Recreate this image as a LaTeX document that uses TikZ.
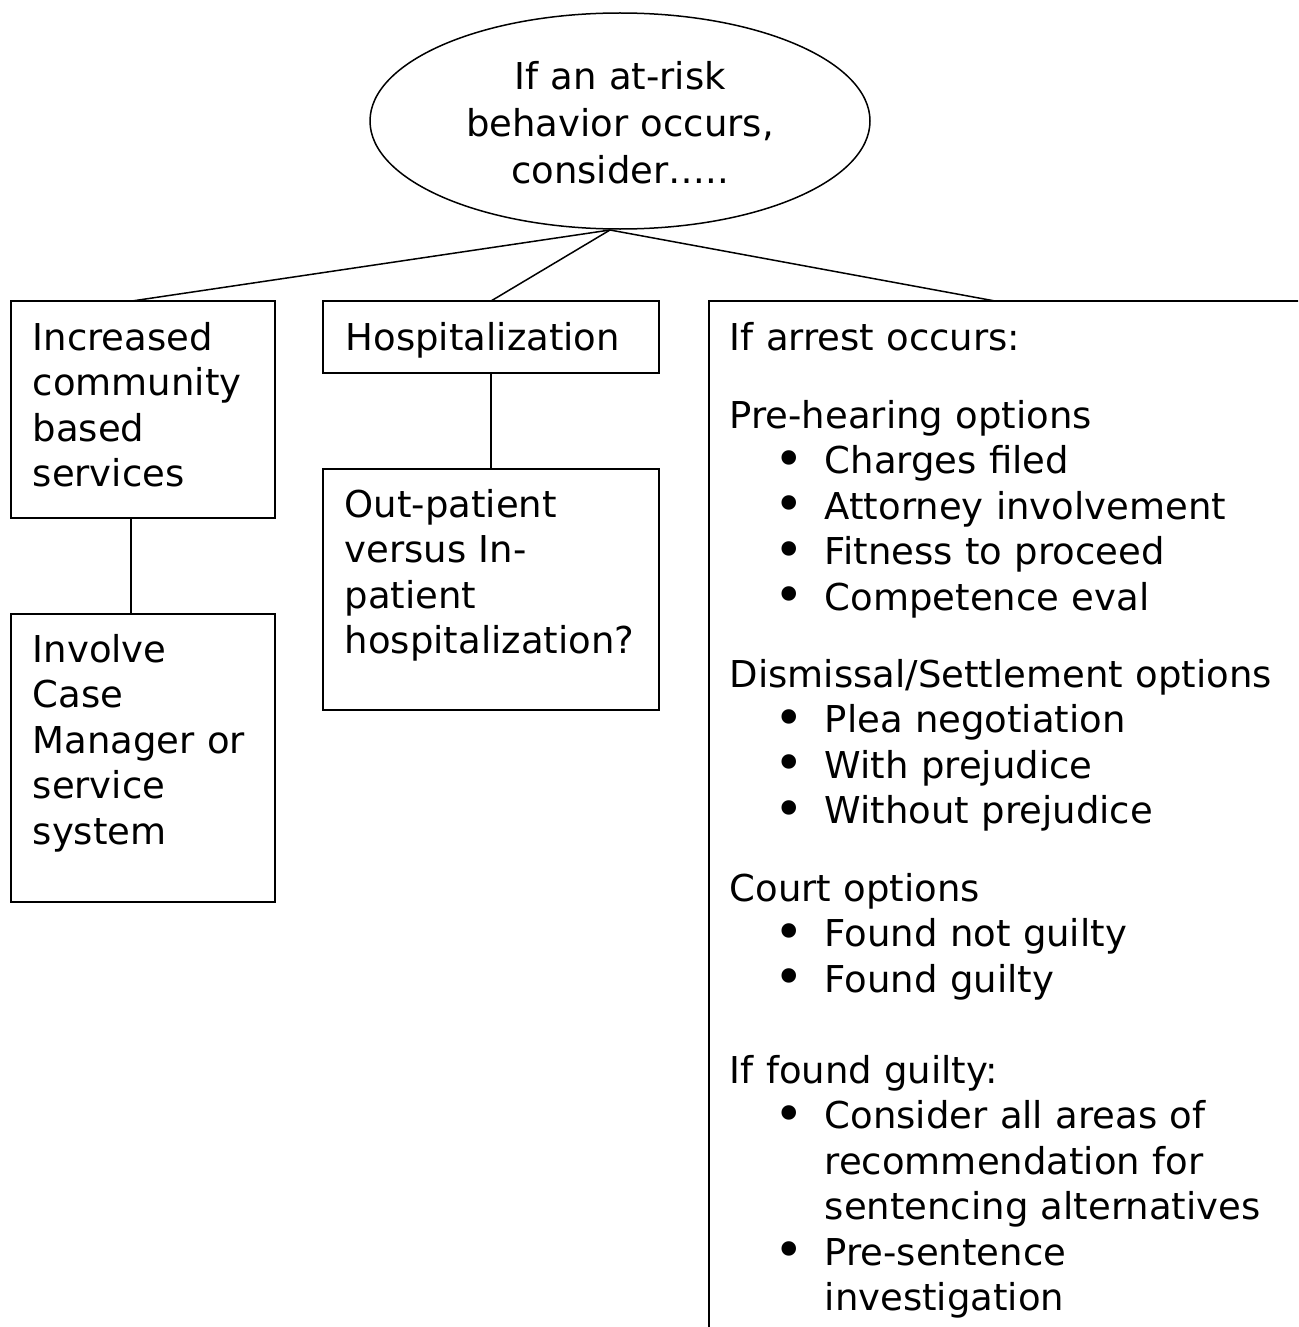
\documentclass[tikz,border=0pt]{standalone}
\usepackage{fontspec}
\setmainfont{DejaVu Sans}
\usetikzlibrary{shapes.geometric,calc}
\newcommand\bitem[1]{\hspace*{45pt}\makebox[50pt][l]{\raisebox{-2.5pt}{\scalebox{1.35}{•}}}#1}
\newcommand\bcont[1]{\hspace*{95pt}#1}
\begin{document}
\begin{tikzpicture}[x=1pt,y=-1pt,line width=1.5pt,
  box/.style={draw,rectangle,inner sep=0pt,outer sep=0pt,anchor=north west},
  txt/.style={anchor=base west,inner sep=0pt,align=left,text width=600pt,
    font=\fontsize{37}{45.5}\selectfont},
  etxt/.style={anchor=base,inner sep=0pt,align=center,text width=420pt,
    font=\fontsize{37}{46.5}\selectfont},
  link/.style={draw,line width=1.5pt}]
\useasboundingbox (0,0) rectangle (1298,1327);
\clip (0,0) rectangle (1298,1327);
\fill[white] (0,0) rectangle (1298,1327);

% top ellipse
\node[draw,ellipse,inner sep=0pt,minimum width=500pt,minimum height=216pt] (top) at (620,121) {};
\node[etxt] (toptxt) at (620,90) {If an at-risk\\behavior occurs,\\consider\dots..};
\coordinate (apex) at (610,230);

% boxes
\node[box,minimum width=264pt,minimum height=217pt] (comm) at (11,301) {};
\node[box,minimum width=264pt,minimum height=288pt] (cm) at (11,614) {};
\node[box,minimum width=336pt,minimum height=72pt] (hosp) at (323,301) {};
\node[box,minimum width=336pt,minimum height=241pt] (outp) at (323,469) {};
\node[box,minimum width=700pt,minimum height=1100pt] (arrest) at (709,301) {};

% texts
\node[txt] (commtxt) at (32,350) {Increased\\community\\based\\services};
\node[txt] (cmtxt) at (32,662) {Involve\\Case\\Manager or\\service\\system};
\node[txt] (hosptxt) at (345,350) {Hospitalization};
\node[txt] (outptxt) at (344,517) {Out-patient\\versus In-\\patient\\hospitalization?};

\node[txt] (r1) at (729,350) {If arrest occurs:};
\node[txt] (r2) at (729,428) {Pre-hearing options\\
  \bitem{Charges filed}\\\bitem{Attorney involvement}\\
  \bitem{Fitness to proceed}\\\bitem{Competence eval}};
\node[txt] (r3) at (729,687) {Dismissal/Settlement options\\
  \bitem{Plea negotiation}\\\bitem{With prejudice}\\\bitem{Without prejudice}};
\node[txt] (r4) at (729,901) {Court options\\
  \bitem{Found not guilty}\\\bitem{Found guilty}};
\node[txt] (r5) at (729,1083) {If found guilty:\\
  \bitem{Consider all areas of}\\\bcont{recommendation for}\\
  \bcont{sentencing alternatives}\\\bitem{Pre-sentence}\\\bcont{investigation}};

% connectors
\path[link] (apex) -- ($(comm.north west)+(121,0)$);
\path[link] (apex) -- (hosp.north);
\path[link] (apex) -- ($(arrest.north west)+(286,0)$);
\path[link] ($(comm.south west)+(120,0)$) -- ($(cm.north west)+(120,0)$);
\path[link] (hosp.south) -- (outp.north);
\end{tikzpicture}
\end{document}
